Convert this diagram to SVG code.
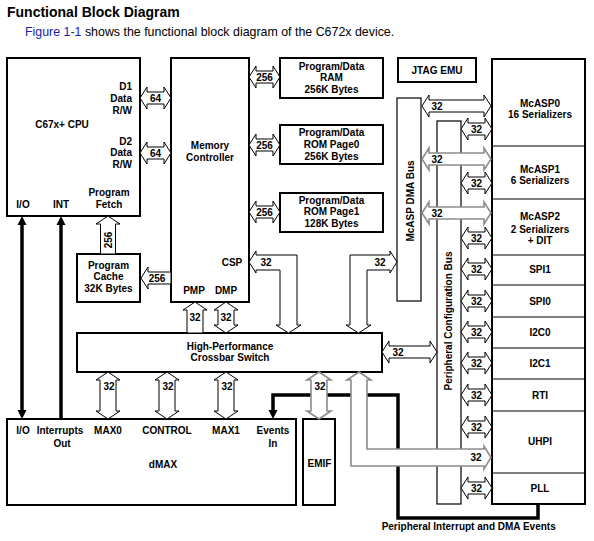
<svg xmlns="http://www.w3.org/2000/svg" xmlns:xlink="http://www.w3.org/1999/xlink" width="594" height="541" viewBox="0 0 594 541">
<style>
.box{fill:#fff;stroke:#000;stroke-width:2}
.thin{fill:#fff;stroke:#000;stroke-width:1.2}
.div{stroke:#000;stroke-width:1.2}
.arr{fill:#fff;stroke:#000;stroke-width:1}
.garr{fill:#fff;stroke:#8c8c8c;stroke-width:1.6}
.wire{fill:none;stroke:#000;stroke-width:3.5}
.head{fill:#000}
.t{font-family:"Liberation Sans",Arial,sans-serif;font-weight:bold;font-size:10px;fill:#000;text-anchor:middle}
.r{text-anchor:end}
.title{font-family:"Liberation Sans",Arial,sans-serif;font-weight:bold;font-size:14px;fill:#000}
.sub{font-family:"Liberation Sans",Arial,sans-serif;font-size:12.4px;fill:#000}
</style>
<defs>
<path id="sh" d="M0,0 L7,-11 L7,-6 L24,-6 L24,-11 L31,0 L24,11 L24,6 L7,6 L7,11 Z"/>
<path id="lh" d="M0,0 L7,-11 L7,-6 L62,-6 L62,-11 L69,0 L62,11 L62,6 L7,6 L7,11 Z"/>
<path id="vd" d="M0,0 L12,8 L8,8 L8,39 L12,39 L0,47 L-12,39 L-8,39 L-8,8 L-12,8 Z"/>
</defs>
<rect width="594" height="541" fill="#fff"/>
<text class="title" x="7" y="17">Functional Block Diagram</text>
<text class="sub" x="25" y="36"><tspan fill="#1c1ca8">Figure 1-1</tspan> shows the functional block diagram of the C672x device.</text>

<g id="cpu">
<rect class="box" x="7" y="58" width="133" height="158"/>
<text class="t" x="62" y="128">C67x+ CPU</text>
<text class="t r" x="132" y="89.5">D1</text>
<text class="t r" x="132" y="101.5">Data</text>
<text class="t r" x="132" y="113.5">R/W</text>
<text class="t r" x="132" y="144.5">D2</text>
<text class="t r" x="132" y="156">Data</text>
<text class="t r" x="132" y="167.5">R/W</text>
<text class="t" x="109" y="195.5">Program</text>
<text class="t" x="109" y="207.5">Fetch</text>
<text class="t" x="23" y="207.5">I/O</text>
<text class="t" x="61" y="207.5">INT</text>
</g>
<g id="memctrl">
<rect class="box" x="171" y="58" width="78" height="244"/>
<text class="t" x="210" y="148.5">Memory</text>
<text class="t" x="210" y="160.8">Controller</text>
<text class="t" x="232" y="265.5">CSP</text>
<text class="t" x="194" y="293.5">PMP</text>
<text class="t" x="226" y="293.5">DMP</text>
</g>
<g id="ram">
<rect class="box" x="280" y="58" width="103" height="40"/>
<text class="t" x="331.5" y="70.2">Program/Data</text>
<text class="t" x="331.5" y="81">RAM</text>
<text class="t" x="331.5" y="92.8">256K Bytes</text>
</g>
<g id="rom0">
<rect class="box" x="280" y="125" width="103" height="39"/>
<text class="t" x="331.5" y="136.2">Program/Data</text>
<text class="t" x="331.5" y="147.8">ROM Page0</text>
<text class="t" x="331.5" y="160.2">256K Bytes</text>
</g>
<g id="rom1">
<rect class="box" x="280" y="193" width="103" height="39"/>
<text class="t" x="331.5" y="203.5">Program/Data</text>
<text class="t" x="331.5" y="215.2">ROM Page1</text>
<text class="t" x="331.5" y="226.8">128K Bytes</text>
</g>
<g id="jtag">
<rect class="box" x="398" y="58" width="78" height="24"/>
<text class="t" x="437" y="73.6">JTAG EMU</text>
</g>
<g id="mcaspdma">
<rect class="thin" x="397" y="98" width="24" height="203"/>
<text class="t" transform="translate(413.5,201) rotate(-90)">McASP DMA Bus</text>
</g>
<g id="pcb">
<rect class="thin" x="437" y="121" width="24" height="383"/>
<text class="t" transform="translate(451.5,321) rotate(-90)">Peripheral Configuration Bus</text>
</g>
<g id="cache">
<rect class="box" x="77" y="254" width="63" height="48"/>
<text class="t" x="108.5" y="268.6">Program</text>
<text class="t" x="108.5" y="280">Cache</text>
<text class="t" x="108.5" y="292.2">32K Bytes</text>
</g>
<g id="crossbar">
<rect class="box" x="77" y="333" width="305" height="39"/>
<text class="t" x="230" y="349.6">High-Performance</text>
<text class="t" x="230" y="360.9">Crossbar Switch</text>
</g>
<g id="dmax">
<rect class="box" x="7" y="419" width="289" height="86"/>
<text class="t" x="23" y="433.6">I/O</text>
<text class="t" x="60" y="433.6">Interrupts</text>
<text class="t" x="62" y="446.8">Out</text>
<text class="t" x="108" y="433.6">MAX0</text>
<text class="t" x="167" y="433.6">CONTROL</text>
<text class="t" x="226" y="433.6">MAX1</text>
<text class="t" x="273" y="433.6">Events</text>
<text class="t" x="273" y="446.8">In</text>
<text class="t" x="163" y="467.8">dMAX</text>
</g>
<g id="emif">
<rect class="box" x="303" y="419" width="32" height="86"/>
<text class="t" x="319.5" y="466.8">EMIF</text>
</g>
<g id="peripherals">
<rect class="box" x="492" y="59" width="93" height="445"/>
<path class="div" d="M492,146H585M492,199H585M492,255H585M492,285H585M492,317H585M492,348H585M492,379H585M492,411H585M492,473H585"/>
<text class="t" x="540" y="106.6">McASP0</text>
<text class="t" x="540" y="117.6">16 Serializers</text>
<text class="t" x="540" y="172.6">McASP1</text>
<text class="t" x="540" y="184.3">6 Serializers</text>
<text class="t" x="540" y="220.3">McASP2</text>
<text class="t" x="540" y="232.6">2 Serializers</text>
<text class="t" x="540" y="244.2">+ DIT</text>
<text class="t" x="540" y="272.6">SPI1</text>
<text class="t" x="540" y="304.6">SPI0</text>
<text class="t" x="540" y="335.6">I2C0</text>
<text class="t" x="540" y="366.6">I2C1</text>
<text class="t" x="540" y="398.6">RTI</text>
<text class="t" x="540" y="445.3">UHPI</text>
<text class="t" x="540" y="491.6">PLL</text>
</g>

<g id="connectors">
<!-- thick signal wires -->
<line class="wire" x1="22" y1="224" x2="22" y2="411"/>
<polygon class="head" points="22,216 26.5,225 17.5,225"/>
<polygon class="head" points="22,419 26.5,410 17.5,410"/>
<line class="wire" x1="61" y1="224" x2="61" y2="419"/>
<polygon class="head" points="61,216 65.5,225 56.5,225"/>
<path class="wire" d="M273,411V395H398V518H538V504"/>
<polygon class="head" points="273,419 277.5,410 268.5,410"/>

<!-- CPU to memory controller -->
<use xlink:href="#sh" href="#sh" class="arr" x="140" y="98"/>
<use xlink:href="#sh" href="#sh" class="arr" x="140" y="153"/>
<text class="t" x="155.5" y="101.6">64</text>
<text class="t" x="155.5" y="156.6">64</text>
<!-- memory controller to memories -->
<use xlink:href="#sh" href="#sh" class="arr" x="249" y="77"/>
<use xlink:href="#sh" href="#sh" class="arr" x="249" y="145"/>
<use xlink:href="#sh" href="#sh" class="arr" x="249" y="212"/>
<text class="t" x="264.5" y="80.6">256</text>
<text class="t" x="264.5" y="148.6">256</text>
<text class="t" x="264.5" y="215.6">256</text>
<!-- program cache -->
<polygon class="arr" points="141,278 148,267 148,272 171,272 171,284 148,284 148,289"/>
<text class="t" x="157" y="281.6">256</text>
<polygon class="arr" points="108,216 120,224 115.5,224 115.5,254 100.5,254 100.5,224 96,224"/>
<text class="t" transform="translate(111.6,240) rotate(-90)">256</text>
<!-- PMP / DMP -->
<polygon class="arr" points="195,302 207,310 203,310 203,333 187,333 187,310 183,310"/>
<text class="t" x="195" y="320.6">32</text>
<polygon class="arr" points="226,302 238,310 234,310 234,325 238,325 226,333 214,325 218,325 218,310 214,310"/>
<text class="t" x="226" y="320.6">32</text>
<!-- CSP -->
<polygon class="arr" points="249,262 256,251 256,255 297,255 297,325 301,325 288.5,333 276,325 280,325 280,270 256,270 256,273"/>
<text class="t" x="266" y="265.6">32</text>
<!-- crossbar to McASP DMA bus -->
<polygon class="arr" points="358.5,333 346,325 350,325 350,255 390,255 390,251 397,262 390,273 390,270 367,270 367,325 371,325"/>
<text class="t" x="380" y="265.6">32</text>
<!-- crossbar to peripheral configuration bus -->
<polygon class="arr" points="382,352 389,341 389,346 430,346 430,341 437,352 430,363 430,358 389,358 389,363"/>
<text class="t" x="398" y="355.6">32</text>
<!-- McASP DMA bus to McASPs -->
<use xlink:href="#lh" href="#lh" class="arr" x="422" y="106"/>
<use xlink:href="#lh" href="#lh" class="garr" x="422" y="159"/>
<use xlink:href="#lh" href="#lh" class="garr" x="422" y="213"/>
<text class="t" x="437" y="109.6">32</text>
<text class="t" x="437" y="162.6">32</text>
<text class="t" x="437" y="216.6">32</text>
<!-- peripheral configuration bus to peripherals -->
<use xlink:href="#sh" href="#sh" class="arr" x="461" y="129"/>
<use xlink:href="#sh" href="#sh" class="arr" x="461" y="183"/>
<use xlink:href="#sh" href="#sh" class="arr" x="461" y="238"/>
<use xlink:href="#sh" href="#sh" class="arr" x="461" y="269"/>
<use xlink:href="#sh" href="#sh" class="arr" x="461" y="301"/>
<use xlink:href="#sh" href="#sh" class="arr" x="461" y="332"/>
<use xlink:href="#sh" href="#sh" class="arr" x="461" y="363"/>
<use xlink:href="#sh" href="#sh" class="arr" x="461" y="395"/>
<use xlink:href="#sh" href="#sh" class="arr" x="461" y="427"/>
<use xlink:href="#sh" href="#sh" class="arr" x="461" y="488"/>
<text class="t" x="476.5" y="132.6">32</text>
<text class="t" x="476.5" y="186.6">32</text>
<text class="t" x="476.5" y="241.6">32</text>
<text class="t" x="476.5" y="272.6">32</text>
<text class="t" x="476.5" y="304.6">32</text>
<text class="t" x="476.5" y="335.6">32</text>
<text class="t" x="476.5" y="366.6">32</text>
<text class="t" x="476.5" y="398.6">32</text>
<text class="t" x="476.5" y="430.6">32</text>
<text class="t" x="476.5" y="491.6">32</text>
<!-- crossbar to dMAX / EMIF -->
<use xlink:href="#vd" href="#vd" class="arr" x="108" y="372"/>
<use xlink:href="#vd" href="#vd" class="arr" x="167" y="372"/>
<use xlink:href="#vd" href="#vd" class="arr" x="226" y="372"/>
<use xlink:href="#vd" href="#vd" class="garr" x="319" y="372"/>
<text class="t" x="109" y="389.6">32</text>
<text class="t" x="168" y="389.6">32</text>
<text class="t" x="227" y="389.6">32</text>
<text class="t" x="320" y="389.6">32</text>
<!-- crossbar to UHPI -->
<polygon class="garr" points="359,372 371,380 367,380 367,449 484,449 484,446 491,457.5 484,469 484,466 351,466 351,380 347,380"/>
<text class="t" x="476" y="461">32</text>
<text class="t" x="468.7" y="530">Peripheral Interrupt and DMA Events</text>
</g>
</svg>
